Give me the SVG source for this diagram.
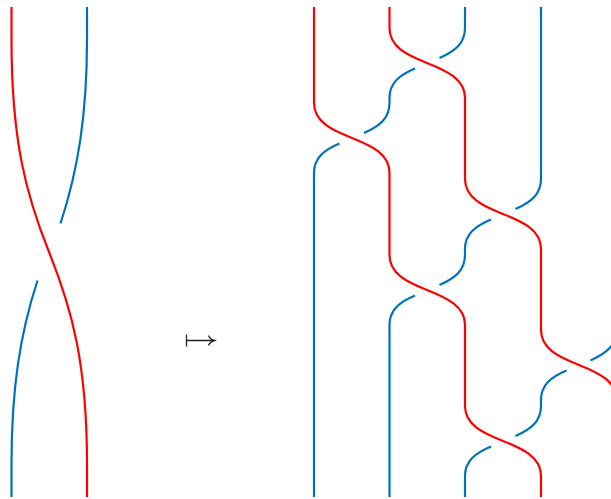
<svg xmlns="http://www.w3.org/2000/svg" width="611" height="499" viewBox="0 0 611 499">
<style>
path{fill:none;stroke-width:2.2}
.r{stroke:#ff0000}
.b{stroke:#0072bc}
.k{stroke:#222222;stroke-width:1.3}
</style>
<rect width="611" height="499" fill="#ffffff"/>
<g id="connectors">
<g id="left-braid">
<path class="r" d="M11.500,7V40C11.500,140 26,195 49,252C72,309 87,364 87,464V497"/>
<path class="b" d="M87,7V40C87,115 78,170 60.500,223.500"/>
<path class="b" d="M37.500,280.500C20,334 11.500,389 11.500,464V497"/>
</g>
<g id="maps-to">
<path class="k" d="M186.500,334.500V346.500M186.500,340.500H214"/>
<path class="k" d="M208.500,335.500C209.500,338 211.500,339.700 214.500,340.500C211.500,341.300 209.500,343 208.500,345.500"/>
</g>
<g id="right-braid-red">
<path class="r" d="M314,7V103C314,122 332,130 352,138C372,146 389.500,154 389.500,173V255C389.500,274 407,282 427,290C447,298 465,306 465,325V406C465,425 483,433 503,441C523,449 541,457 541,476V497"/>
<path class="r" d="M389.500,7V28C389.500,47 407,55 427,63C447,71 465,79 465,98V179C465,198 483,206 503,214C523,222 541,230 541,249V330C541,349 559,357 579,365C599,373 616.500,381 616.500,400"/>
</g>
<g id="right-braid-blue">
<path class="b" d="M465,7V28C465,43 455.500,51 439.500,58"/>
<path class="b" d="M415,68.500C399.500,75 389.500,83 389.500,98V103C389.500,118 380,126 364,133"/>
<path class="b" d="M339.500,143.500C324,150 314,158 314,173V497"/>
<path class="b" d="M541,7V179C541,194 531.500,202 515.500,209"/>
<path class="b" d="M491,219.500C475.500,226 465,234 465,249V255C465,270 455.500,278 439.500,285"/>
<path class="b" d="M415,295.500C399.500,302 389.500,310 389.500,325V497"/>
<path class="b" d="M616.500,330C616.500,345 607,353 590.500,360.500"/>
<path class="b" d="M566.500,370.500C551,377 541,385 541,400V406C541,421 531.500,429 515.500,436"/>
<path class="b" d="M491,446.500C475.500,453 465,461 465,476V497"/>
</g>
</g>
</svg>
